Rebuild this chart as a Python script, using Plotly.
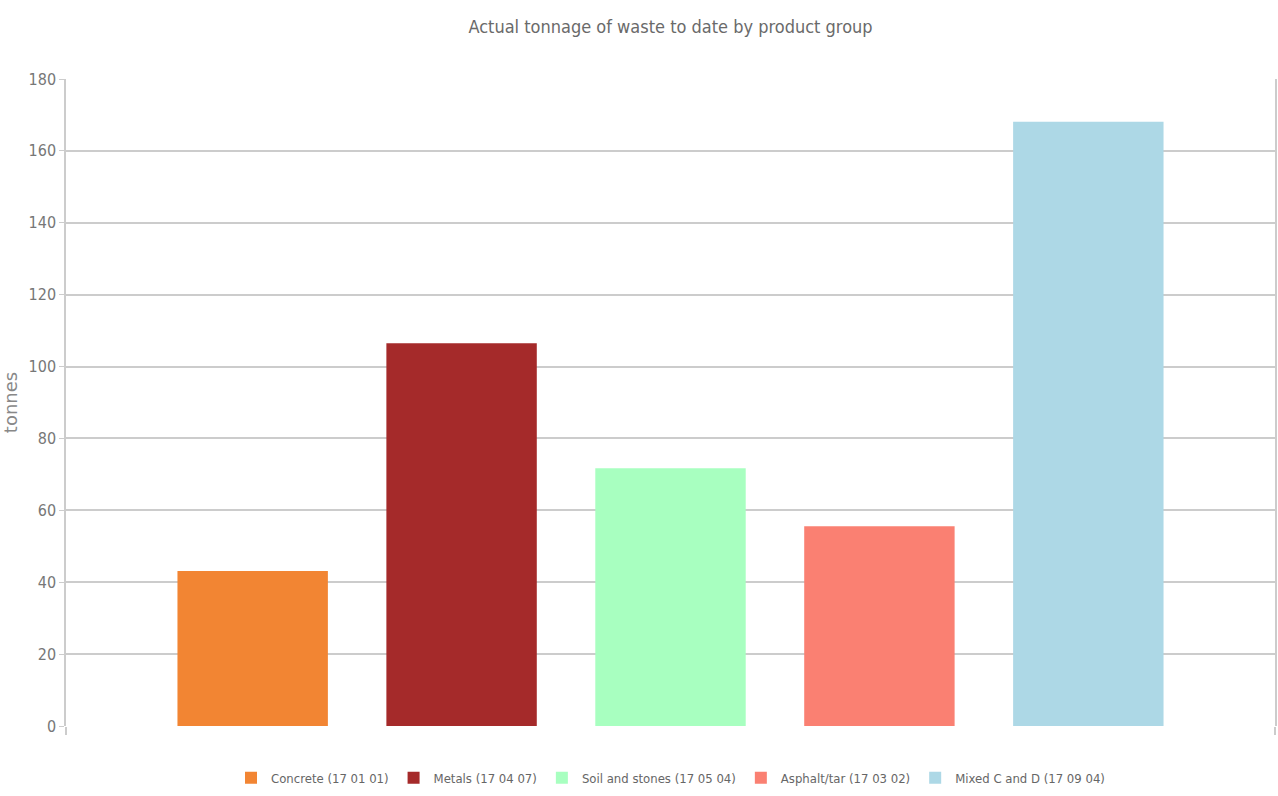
import plotly.graph_objects as go

categories = ["Concrete (17 01 01)", "Metals (17 04 07)", "Soil and stones (17 05 04)",
              "Asphalt/tar (17 03 02)", "Mixed C and D (17 09 04)"]
values = [43.1, 106.5, 71.7, 55.6, 168.1]
colors = ["#f28533", "#a52a2a", "#a8ffc0", "#fa8072", "#add8e6"]
y_ticks = [0, 20, 40, 60, 80, 100, 120, 140, 160, 180]

narrow = "Liberation Sans Narrow, DejaVu Sans Condensed, Arial Narrow, sans-serif"

fig = go.Figure()
for name, v, c in zip(categories, values, colors):
    fig.add_trace(go.Bar(x=[""], y=[v], name=name, marker=dict(color=c, line=dict(width=0))))

fig.update_layout(
    width=1278, height=796,
    margin=dict(l=66, r=3, t=79, b=70, autoexpand=False),
    paper_bgcolor="white", plot_bgcolor="white",
    barmode="group", bargap=0.136, bargroupgap=0.28,
    title=dict(text="Actual tonnage of waste to date by product group", x=0.5, xanchor="center",
               xref="paper", y=0.966, yanchor="middle",
               font=dict(family=narrow, size=18, color="#6a6a6a")),
    showlegend=True,
    legend=dict(orientation="h", x=0.5, xanchor="center", xref="paper",
                yref="container", y=0.023, yanchor="middle",
                font=dict(family=narrow, size=13, color="#666666"),
                itemwidth=30, traceorder="normal", tracegroupgap=0),
    xaxis=dict(showticklabels=False, showgrid=False, zeroline=False,
               showline=False, ticks="outside", ticklen=8, tickcolor="#cccccc",
               tickson="boundaries", tickwidth=1.5, automargin=False),
    yaxis=dict(range=[0, 180], tickvals=y_ticks, showgrid=True, gridcolor="#cccccc", gridwidth=1.5,
               showline=True, linecolor="#cccccc", linewidth=1.5, mirror=True,
               ticks="outside", ticklen=5, tickcolor="#cccccc", zeroline=False, automargin=False,
               tickfont=dict(family=narrow, size=16, color="#777777"),
               title=dict(text="tonnes", standoff=18,
                          font=dict(family="DejaVu Sans, Verdana, sans-serif", size=18, color="#888888"))),
)

fig.write_html("out.html", config={"displayModeBar": False},
               post_script="document.body.style.margin='0';document.body.style.overflow='hidden';")
